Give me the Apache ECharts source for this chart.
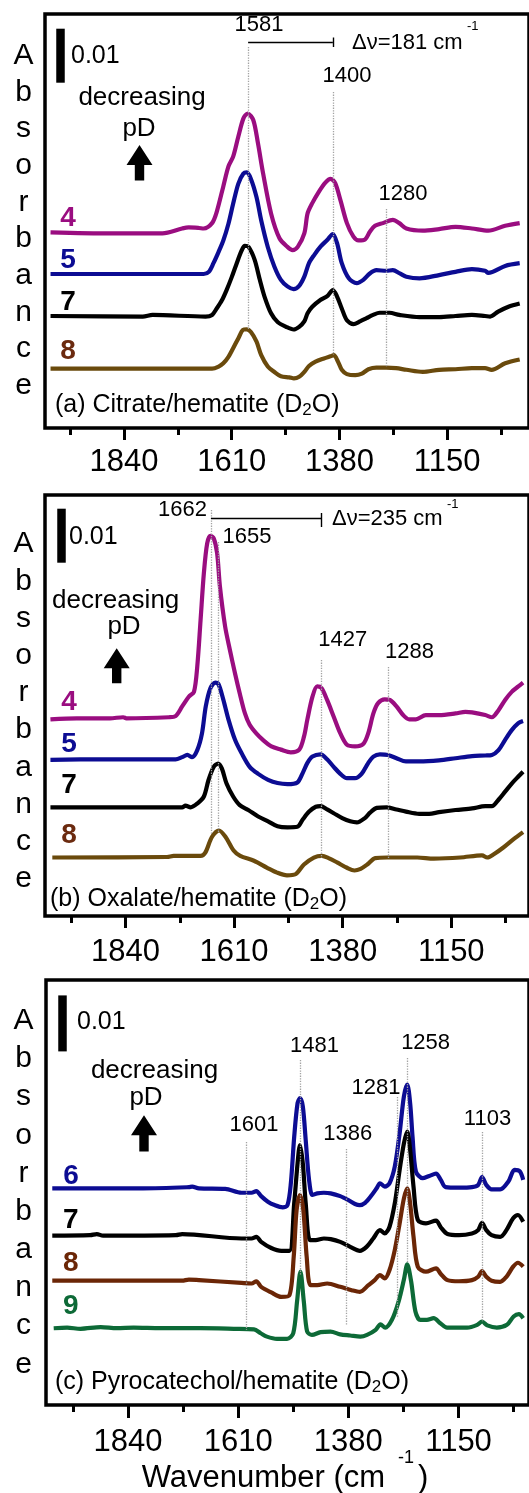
<!DOCTYPE html>
<html>
<head>
<meta charset="utf-8">
<title>Citrate / oxalate / pyrocatechol on hematite</title>
<script src="https://cdn.jsdelivr.net/npm/echarts@6/dist/echarts.min.js"></script>
<style>
  html, body { margin: 0; padding: 0; background: #fff; }
  #chart { width: 529px; height: 1493px; }
</style>
</head>
<body>
<div id="chart"></div>
<script>
const FONT = '"Liberation Sans", Arial, Helvetica, sans-serif'

// spectra: [wavenumber cm-1, absorbance x 1000 above the trace's own baseline]
const citrate4 = [[1997,0],[1870,-0.2],[1758,-0.2],[1716,0.7],[1702,0.9],[1680,0.8],[1670,0.7],[1652,1.7],[1642,3.8],[1628,8.5],[1617,12.2],[1607,14.0],[1596,17.7],[1585,21.1],[1576,22.0],[1564,20.8],[1554,16.5],[1543,10.9],[1526,3.5],[1508,-1.1],[1491,-2.7],[1480,-3.3],[1469,-2.7],[1455,-0.2],[1448,3.5],[1438,5.4],[1424,7.5],[1410,9.2],[1399,9.9],[1389,9.1],[1378,6.0],[1364,1.7],[1350,-0.8],[1339,-1.5],[1325,-1.3],[1315,0.1],[1304,1.2],[1287,1.7],[1266,2.3],[1252,1.7],[1237,0.7],[1202,0.3],[1167,0.6],[1132,1.0],[1097,0.7],[1062,0.3],[1026,1.2],[995,1.7]]
const citrate5 = [[1997,0],[1800,0],[1670,0],[1659,0.4],[1649,2.0],[1638,4.1],[1628,6.2],[1617,9.3],[1607,13.0],[1596,16.7],[1585,18.6],[1578,18.8],[1569,17.6],[1557,14.2],[1547,9.9],[1533,5.0],[1519,1.4],[1505,-1.1],[1491,-2.3],[1478,-2.8],[1466,-2.2],[1455,-0.5],[1445,2.0],[1434,3.5],[1420,5.1],[1406,6.3],[1394,7.4],[1385,5.7],[1375,2.0],[1360,-0.8],[1343,-1.7],[1329,-1.1],[1315,0.1],[1301,0.7],[1280,0.6],[1266,0.7],[1251,0.1],[1237,-0.5],[1209,-0.8],[1167,-0.2],[1132,0.4],[1097,0.9],[1069,0.6],[1062,0.2],[1026,1.5],[995,2.0]]
const citrate7 = [[1997,0],[1800,-0.1],[1779,0.2],[1666,-0.1],[1652,0.2],[1642,1.4],[1631,2.9],[1621,4.8],[1610,7.2],[1600,9.6],[1589,12.1],[1582,13.0],[1574,12.8],[1561,10.4],[1550,6.7],[1540,3.6],[1526,0.5],[1512,-1.1],[1494,-2.0],[1478,-2.5],[1466,-2.0],[1455,-1.0],[1448,0.5],[1438,1.7],[1420,3.0],[1406,3.7],[1394,4.8],[1385,3.6],[1375,1.4],[1364,-0.8],[1350,-1.5],[1336,-1.0],[1322,-0.4],[1308,0.2],[1294,0.6],[1273,0.6],[1252,0.2],[1209,-0.2],[1167,-0.2],[1132,0],[1097,0.2],[1069,0],[1058,-0.1],[1041,0.8],[1019,1.7],[995,2.3]]
const citrate8 = [[1997,0],[1800,0],[1652,0],[1638,0.4],[1628,1.0],[1617,2.2],[1607,3.8],[1596,5.6],[1586,7.2],[1578,7.3],[1569,6.8],[1557,5.0],[1547,2.5],[1533,0.4],[1519,-0.6],[1505,-1.4],[1487,-1.6],[1477,-1.8],[1466,-1.5],[1455,-0.6],[1445,0.5],[1431,1.3],[1413,1.9],[1399,2.3],[1392,2.5],[1383,1.3],[1375,-0.2],[1364,-1.0],[1346,-1.2],[1332,-0.9],[1318,-0.1],[1301,0.2],[1280,0.2],[1259,0.1],[1237,-0.2],[1202,-0.6],[1167,-0.2],[1132,-0.1],[1097,0.1],[1069,0.1],[1055,-0.2],[1026,1.0],[995,1.7]]

const oxalate4 = [[1999,-0.2],[1943,0],[1873,0],[1845,0.2],[1838,0],[1748,0.2],[1734,0.4],[1720,2.2],[1706,4.0],[1695,4.9],[1688,9.6],[1681,18.2],[1674,26.9],[1667,32.4],[1660,33.8],[1653,33.3],[1646,30.6],[1640,24.4],[1629,17.0],[1619,12.7],[1608,8.3],[1598,4.6],[1587,0.9],[1577,-1.2],[1563,-2.8],[1549,-4.0],[1531,-5.2],[1511,-5.8],[1490,-6.3],[1472,-5.8],[1462,-3.4],[1455,-0.3],[1444,4.0],[1434,5.9],[1425,5.6],[1413,3.4],[1399,0.3],[1385,-2.8],[1371,-4.9],[1354,-5.2],[1336,-4.7],[1326,-2.8],[1315,0.9],[1305,2.8],[1291,3.5],[1280,3.4],[1266,2.2],[1252,0.6],[1239,-0.2],[1225,-0.2],[1204,0.6],[1176,0.6],[1141,0.9],[1120,1.2],[1106,1.1],[1078,0.6],[1064,0.2],[1050,1.5],[1036,3.4],[1022,4.9],[1008,5.9],[998,6.6]]
const oxalate5 = [[1999,-0.1],[1887,0],[1734,0],[1720,0.4],[1709,0.8],[1699,0.4],[1688,1.7],[1678,4.8],[1670,9.8],[1660,13.2],[1650,14.2],[1643,13.9],[1633,11.1],[1622,7.4],[1608,3.6],[1594,1.1],[1577,-1.4],[1559,-2.7],[1538,-3.8],[1518,-4.4],[1497,-4.6],[1476,-4.3],[1465,-2.6],[1455,-0.7],[1444,0.5],[1427,0.9],[1413,0],[1399,-1.4],[1385,-2.7],[1371,-3.5],[1354,-3.5],[1340,-2.7],[1326,-0.7],[1315,0.5],[1301,0.9],[1284,0.8],[1266,0.2],[1246,-0.4],[1218,-0.4],[1176,-0.2],[1141,0.2],[1106,0.6],[1078,0.7],[1064,0.8],[1050,1.7],[1036,3.6],[1022,5.4],[1008,6.7],[998,7.1]]
const oxalate7 = [[1999,0],[1803,0],[1720,0],[1713,0.3],[1702,0],[1688,0.7],[1674,2.0],[1664,5.1],[1653,7.5],[1644,8.1],[1636,7.2],[1626,4.4],[1612,2.0],[1598,0.4],[1580,-0.5],[1559,-1.7],[1538,-2.6],[1518,-3.5],[1497,-3.7],[1476,-3.6],[1465,-2.3],[1451,-0.8],[1437,0.1],[1427,0.2],[1413,-0.4],[1399,-1.1],[1381,-2.0],[1364,-2.6],[1350,-2.8],[1333,-2.0],[1322,-1.0],[1308,-0.1],[1287,0],[1266,-0.4],[1246,-0.8],[1218,-1.2],[1197,-1.2],[1176,-0.9],[1141,-0.5],[1106,-0.2],[1078,0.2],[1064,0.2],[1050,1.4],[1036,2.9],[1022,4.4],[1008,5.7],[998,6.6]]
const oxalate8 = [[1995,0],[1752,0.1],[1738,0.3],[1681,0.3],[1671,0.9],[1657,3.8],[1642,5.0],[1628,3.8],[1611,1.3],[1597,0.3],[1568,-0.6],[1540,-1.9],[1519,-2.8],[1498,-3.3],[1480,-3.1],[1462,-1.3],[1441,0],[1424,0.3],[1410,-0.1],[1392,-0.9],[1371,-1.9],[1355,-2.4],[1342,-2.1],[1328,-1.3],[1311,-0.1],[1286,0],[1222,0],[1187,-0.2],[1131,0],[1085,0.4],[1074,0],[1060,0.6],[1039,1.9],[1018,3.4],[998,4.7]]

const pyro6 = [[1998,0],[1809,0],[1713,0.2],[1706,0.3],[1692,0],[1637,-0.1],[1603,-0.8],[1582,-0.8],[1572,-0.5],[1562,-1.4],[1548,-2.4],[1534,-3.0],[1517,-3.4],[1507,-3.0],[1500,0.9],[1493,9.2],[1486,15.2],[1481,16.1],[1475,14.6],[1469,8.6],[1462,1.5],[1455,-1.2],[1445,-0.9],[1431,-0.8],[1417,-0.9],[1397,-1.4],[1380,-2.1],[1366,-2.8],[1356,-3.0],[1345,-2.6],[1331,-1.2],[1321,0],[1314,0.9],[1304,0.3],[1294,0.9],[1283,3.9],[1273,9.8],[1264,16.4],[1257,18.5],[1251,15.2],[1246,9.2],[1239,3.0],[1225,1.8],[1211,2.2],[1197,2.6],[1187,1.5],[1177,0.2],[1149,0.1],[1122,0.2],[1109,0.6],[1101,2.0],[1092,0.6],[1081,-0.2],[1063,-0.2],[1046,1.2],[1033,3.3],[1022,3.0],[1015,1.5]]
const pyro7 = [[1998,0],[1919,0.1],[1905,0.3],[1892,0],[1740,0.1],[1727,0.3],[1603,-0.5],[1582,-0.5],[1572,-0.2],[1562,-1.1],[1541,-2.2],[1520,-2.7],[1503,-2.7],[1493,5.8],[1486,12.9],[1481,16.2],[1475,12.9],[1469,5.8],[1460,-0.8],[1448,-0.8],[1431,-0.5],[1417,-0.6],[1397,-1.1],[1376,-2.0],[1356,-2.7],[1342,-2.0],[1328,-0.5],[1314,1.0],[1304,0.4],[1294,1.6],[1283,5.8],[1273,11.7],[1264,16.5],[1257,18.6],[1251,15.3],[1244,8.8],[1235,2.8],[1218,2.2],[1197,2.7],[1187,1.5],[1173,0.3],[1149,0.1],[1122,0.4],[1109,1.0],[1101,2.3],[1092,1.0],[1081,0.1],[1063,-0.2],[1050,1.0],[1036,3.1],[1026,3.7],[1015,2.5]]
const pyro8 = [[1998,0],[1727,0],[1713,0.2],[1692,0.1],[1603,-0.4],[1582,-0.5],[1572,-0.1],[1562,-1.1],[1541,-2.1],[1520,-2.9],[1503,-2.6],[1494,4.3],[1488,12.6],[1481,15.3],[1474,12.6],[1467,4.3],[1459,-0.8],[1445,-0.8],[1424,-0.5],[1397,-1.1],[1373,-1.7],[1356,-2.0],[1338,-0.8],[1325,0.1],[1314,1.0],[1304,0.4],[1294,1.9],[1283,5.5],[1273,10.2],[1264,14.7],[1257,16.5],[1251,13.8],[1244,7.9],[1235,2.5],[1218,1.6],[1197,2.2],[1187,1.2],[1173,0.1],[1149,-0.1],[1122,0.1],[1109,0.7],[1101,1.7],[1092,0.7],[1081,0],[1063,-0.2],[1050,0.7],[1036,2.5],[1026,3.2],[1015,2.5]]
const pyro9 = [[1995,0],[1967,0.1],[1939,-0.1],[1897,0.2],[1863,0],[1828,0.1],[1772,0],[1689,0],[1619,-0.1],[1577,-0.2],[1563,-0.9],[1550,-1.5],[1529,-1.9],[1508,-1.9],[1495,-0.9],[1487,4.8],[1480,10.1],[1473,4.8],[1466,-0.6],[1456,-1.2],[1438,-0.7],[1417,-0.6],[1397,-1.1],[1376,-1.3],[1355,-1.5],[1341,-1.2],[1323,-0.3],[1313,0.7],[1303,0.1],[1289,1.5],[1275,4.8],[1264,8.7],[1257,11.4],[1249,8.4],[1240,3.0],[1230,1.5],[1216,1.5],[1202,1.8],[1188,0.9],[1174,0.1],[1132,0.1],[1111,0.6],[1101,1.2],[1090,0.5],[1070,0.1],[1049,0.6],[1035,2.1],[1024,2.5],[1015,1.8]]

const majorTicks = [1840, 1610, 1380, 1150]
const minorTicks = [1955, 1725, 1495, 1265, 1035]

// where the dotted guide lines sit, and what is written over them
const citratePeaks = [1575, 1394, 1280]
const citratePeakLabels = ['1581', '1400', '1280']
const oxalatePeaks = [1659, 1643, 1425, 1284]
const oxalatePeakLabels = ['1662', '1655', '1427', '1288']
const pyroPeaks = [1594, 1481, 1385, 1277, 1257, 1101]
const pyroPeakLabels = ['1601', '1481', '1386', '1281', '1258', '1103']

const PURPLE = '#9a0d80'
const BLUE = '#0c0c93'
const BLACK = '#000000'
const OLIVE = '#6a4a0c'
const BROWN = '#6b2606'
const GREEN = '#0d6a37'
const LABEL_BROWN = '#6b2a0f'
const GUIDE = '#a3a3a3'

const panels = [
  {
    grid: {left: 45, top: 14, width: 490, height: 414},
    min: 975.1, max: 2008.8, ppu: 5.4, labelMargin: 19, tickLen: 12,
    spectra: [citrate4, citrate5, citrate7, citrate8],
    colors: [PURPLE, BLUE, BLACK, OLIVE],
    offsets: [36.24, 28.52, 20.74, 10.98],
    peaks: citratePeaks,
    guideSpan: [[47, 329], [92, 355], [209, 367]],
    delta: {y: 42.2, from: 0, to: 1, tick: [37.5, 47]},
    bar: {x: 60, top: 28.7},
  },
  {
    grid: {left: 45, top: 495, width: 490, height: 421},
    min: 985.4, max: 2010.5, ppu: 5.4, labelMargin: 21, tickLen: 12,
    spectra: [oxalate4, oxalate5, oxalate7, oxalate8],
    colors: [PURPLE, BLUE, BLACK, OLIVE],
    offsets: [36.61, 29.02, 20.13, 10.83],
    peaks: oxalatePeaks,
    guideSpan: [[510, 834], [542, 833], [660, 858], [667, 858]],
    delta: {y: 517.8, from: 0, to: 2, tick: [513, 527]},
    bar: {x: 61, top: 508.7},
  },
  {
    grid: {left: 46, top: 980, width: 489, height: 425},
    min: 1002.9, max: 2011.1, ppu: 5.6, labelMargin: 22, tickLen: 13,
    spectra: [pyro6, pyro7, pyro8, pyro9],
    colors: [BLUE, BLACK, BROWN, GREEN],
    offsets: [38.7, 30.23, 22.2, 13.71],
    peaks: pyroPeaks,
    guideSpan: [[1142, 1330], [1060, 1275], [1149, 1325], [1097, 1318], [1058, 1263], [1132, 1322]],
    delta: null,
    bar: {x: 62, top: 995.4},
  },
]

function yOf (p, py) { return (p.grid.top + p.grid.height - py) / p.ppu }
function wOf (p, px) { return p.max - (px - p.grid.left) * (p.max - p.min) / p.grid.width }

const grids = [], xAxes = [], yAxes = [], series = []

panels.forEach((p, i) => {
  grids.push(Object.assign({show: true, borderColor: '#000', borderWidth: 3.5, backgroundColor: 'transparent'}, p.grid))
  xAxes.push({
    gridIndex: i, type: 'value', inverse: true, min: p.min, max: p.max, position: 'bottom',
    axisLine: {show: false}, splitLine: {show: false},
    axisTick: {show: true, length: p.tickLen, customValues: majorTicks, lineStyle: {width: 3, color: '#000'}},
    axisLabel: {show: true, customValues: majorTicks, margin: p.labelMargin, fontSize: 31, color: '#000',
      fontFamily: FONT, formatter: v => String(v)},
  }, {
    gridIndex: i, type: 'value', inverse: true, min: p.min, max: p.max, position: 'bottom',
    axisLine: {show: false}, splitLine: {show: false}, axisLabel: {show: false},
    axisTick: {show: true, length: 7, customValues: minorTicks, lineStyle: {width: 3, color: '#000'}},
  })
  yAxes.push({gridIndex: i, type: 'value', min: 0, max: p.grid.height / p.ppu, show: false})

  p.spectra.forEach((s, k) => {
    series.push({
      type: 'line', xAxisIndex: 2 * i, yAxisIndex: i, silent: true, z: 2,
      data: s.map(d => [d[0], d[1] + p.offsets[k]]),
      showSymbol: false, smooth: 0.3,
      lineStyle: {width: 4.2, color: p.colors[k], join: 'round'},
    })
  })

  const dotted = {type: 'dotted', width: 1.3, color: GUIDE}
  const solid = (w) => ({type: 'solid', width: w, color: '#000', cap: 'butt'})
  const marks = p.peaks.map((w, k) => [
    {coord: [w, yOf(p, p.guideSpan[k][0])], lineStyle: dotted},
    {coord: [w, yOf(p, p.guideSpan[k][1])]},
  ])
  // 0.01 absorbance scale bar
  const bw = wOf(p, p.bar.x), btop = yOf(p, p.bar.top)
  marks.push([{coord: [bw, btop], lineStyle: solid(8.5)}, {coord: [bw, btop - 10]}])
  if (p.delta) {
    const d = p.delta
    marks.push([{coord: [p.peaks[d.from], yOf(p, d.y)], lineStyle: solid(1.4)}, {coord: [p.peaks[d.to], yOf(p, d.y)]}])
    marks.push([{coord: [p.peaks[d.to], yOf(p, d.tick[0])], lineStyle: solid(1.4)}, {coord: [p.peaks[d.to], yOf(p, d.tick[1])]}])
  }
  series.push({
    type: 'line', xAxisIndex: 2 * i, yAxisIndex: i, data: [], z: 5, silent: true,
    markLine: {symbol: ['none', 'none'], silent: true, animation: false, label: {show: false},
      emphasis: {disabled: true}, data: marks},
  })
})

function txt (text, x, y, size, extra) {
  return {type: 'text', x, y, z: 10, silent: true,
    style: Object.assign({text, font: size + 'px ' + FONT, fill: '#000', align: 'center', verticalAlign: 'middle'}, extra || {})}
}
function bold (text, x, y, color) {
  return {type: 'text', x, y, z: 10, silent: true,
    style: {text, font: 'bold 28px ' + FONT, fill: color, align: 'center', verticalAlign: 'middle'}}
}
function arrow (cx, top, bottom) {
  return {type: 'polygon', z: 10, silent: true, style: {fill: '#000'},
    shape: {points: [[cx - 4.7, bottom], [cx - 4.7, top + 20], [cx - 13, top + 20], [cx, top],
      [cx + 13, top + 20], [cx + 4.7, top + 20], [cx + 4.7, bottom]]}}
}
function caption (label, x, y) {
  return {type: 'text', x, y, z: 10, silent: true,
    style: {text: '{t|' + label + ' (D}{s|2}{t|O)}', align: 'left', verticalAlign: 'middle', fill: '#000',
      rich: {t: {fontSize: 25, lineHeight: 28, fontFamily: FONT, fill: '#000'},
        s: {fontSize: 17, lineHeight: 17, verticalAlign: 'bottom', fontFamily: FONT, fill: '#000'}}}}
}
function absLetters (y, lh) {
  return {type: 'text', x: 23.5, y, z: 10, silent: true,
    style: {text: 'Absorbance'.split('').join('\n'), font: '30px ' + FONT, fill: '#000',
      align: 'center', verticalAlign: 'middle', lineHeight: lh}}
}

const graphic = [
  // (a)
  absLetters(220.6, 36.66),
  txt('0.01', 71, 56, 25, {align: 'left'}),
  txt(citratePeakLabels[0], 259, 25, 22),
  txt('\u0394\u03bd=181 cm', 352, 43, 22, {align: 'left'}),
  txt('-1', 467, 26, 13, {align: 'left'}),
  txt(citratePeakLabels[1], 347, 76, 22),
  txt(citratePeakLabels[2], 403, 194, 22),
  txt('decreasing', 142, 98, 26),
  txt('pD', 139, 129, 26),
  arrow(139.5, 145, 180.5),
  bold('4', 68, 218, PURPLE), bold('5', 68, 260, BLUE), bold('7', 68, 302, BLACK), bold('8', 68, 351, LABEL_BROWN),
  caption('(a) Citrate/hematite', 55, 405),
  // (b)
  absLetters(711.6, 37.24),
  txt('0.01', 69, 537, 25, {align: 'left'}),
  txt(oxalatePeakLabels[0], 182.5, 510.4, 22),
  txt('\u0394\u03bd=235 cm', 332, 519, 22, {align: 'left'}),
  txt('-1', 447, 504, 13, {align: 'left'}),
  txt(oxalatePeakLabels[1], 247, 537, 22),
  txt(oxalatePeakLabels[2], 342.8, 640, 22),
  txt(oxalatePeakLabels[3], 409.5, 651.7, 22),
  txt('decreasing', 115.7, 601, 26),
  txt('pD', 124, 627.3, 26),
  arrow(116.7, 648.3, 683.3),
  bold('4', 69, 702, PURPLE), bold('5', 69, 744, BLUE), bold('7', 69, 785, BLACK), bold('8', 69, 835, LABEL_BROWN),
  caption('(b) Oxalate/hematite', 50, 899),
  // (c)
  absLetters(1192.5, 38.17),
  txt('0.01', 77, 1022.4, 25, {align: 'left'}),
  txt(pyroPeakLabels[0], 254, 1125.3, 22),
  txt(pyroPeakLabels[1], 314.4, 1046, 22),
  txt(pyroPeakLabels[2], 347.7, 1133.8, 22),
  txt(pyroPeakLabels[3], 376, 1088.2, 22),
  txt(pyroPeakLabels[4], 425.6, 1042.7, 22),
  txt(pyroPeakLabels[5], 487.5, 1118.6, 22),
  txt('decreasing', 154.5, 1071.3, 26),
  txt('pD', 146, 1098.3, 26),
  arrow(144, 1115.2, 1151.6),
  bold('6', 71, 1176, BLUE), bold('7', 70.7, 1220, BLACK), bold('8', 70.7, 1263.3, BROWN), bold('9', 70.7, 1306.7, GREEN),
  caption('(c) Pyrocatechol/hematite', 55, 1382.2),
  txt('Wavenumber (cm', 141.7, 1478.3, 31, {align: 'left'}),
  txt('-1', 398, 1458, 18, {align: 'left'}),
  txt(')', 418, 1478.3, 31, {align: 'left'}),
]

const chart = echarts.init(document.getElementById('chart'), null, {renderer: 'canvas'})
chart.setOption({
  animation: false,
  backgroundColor: '#fff',
  textStyle: {fontFamily: FONT},
  grid: grids,
  xAxis: xAxes,
  yAxis: yAxes,
  series: series,
  graphic: graphic,
})
</script>
</body>
</html>
